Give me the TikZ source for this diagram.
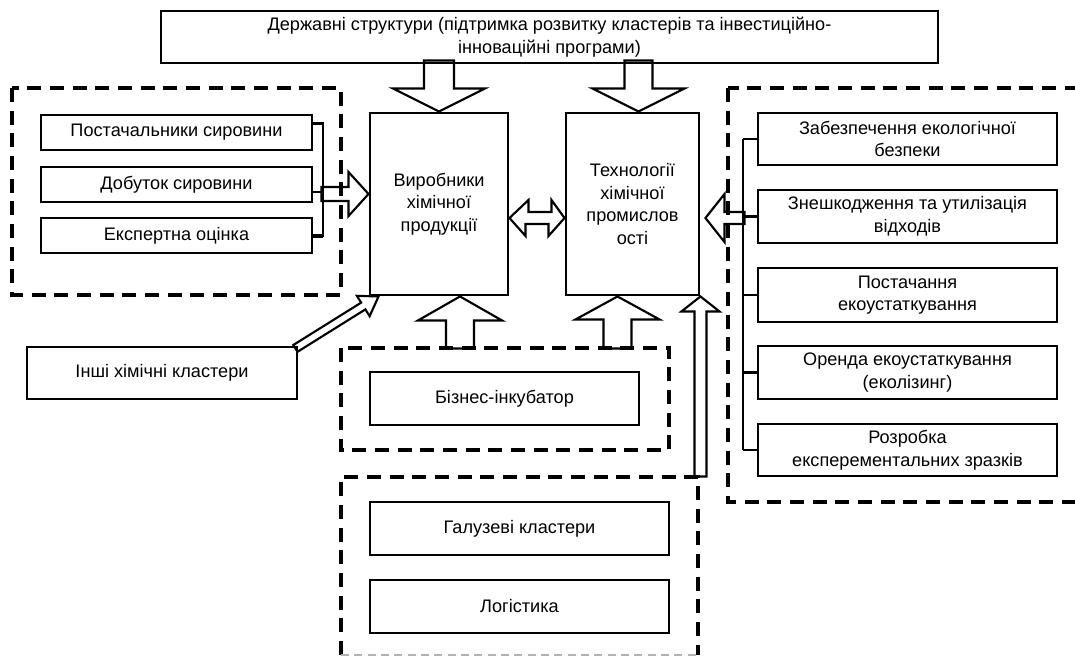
\documentclass[tikz,border=0pt]{standalone}
\usepackage{fontspec}
\setmainfont{Liberation Sans}
\usetikzlibrary{calc}

% hollow block arrow: tip, direction, length, shaft half width, head half width, head length
\newcommand{\blockarrow}[6]{%
  \begin{scope}[shift={(#1)},rotate=#2]
    \draw[hollow] (0,0) -- (-#6,#5) -- (-#6,#4) -- (-#3,#4) -- (-#3,-#4) -- (-#6,-#4) -- (-#6,-#5) -- cycle;
  \end{scope}}

\begin{document}
\begin{tikzpicture}[x=0.75pt,y=-0.75pt,
  box/.style={draw,line width=2.2pt,inner sep=0pt,align=center,font=\fontsize{13.6pt}{17pt}\selectfont},
  sz/.style 2 args={minimum width=#1*0.75pt,minimum height=#2*0.75pt},
  grp/.style={draw,line width=3pt,dash pattern=on 10.5pt off 6.5pt},
  link/.style={line width=1.6pt},
  hollow/.style={line width=1.6pt,line join=miter}]
\useasboundingbox (0,0) rectangle (1075,657);
\clip (0,0) rectangle (1075,657);

% groups
\draw[grp] (12,88) rectangle (341,295);
\draw[grp] (728,88) rectangle (1090,502);
\draw[grp] (341,348) rectangle (669,450);
\draw[grp] (341,655) -- (341,477) -- (698,477) -- (698,655);
\draw[gray!60,line width=0.8pt,dash pattern=on 6pt off 4pt] (341,655) -- (698,655);

% boxes
\node[box,sz={777}{52}] (gov) at (549.5,37) {Державні структури (підтримка розвитку кластерів та інвестиційно-\\інноваційні програми)};
\node[box,sz={271}{35}] (sup) at (176.5,132.5) {Постачальники сировини};
\node[box,sz={271}{35}] (mine) at (176.5,184.5) {Добуток сировини};
\node[box,sz={271}{35}] (exp) at (176.5,235.5) {Експертна оцінка};
\node[box,sz={138}{182}] (vyr) at (439,204) {Виробники\\хімічної\\продукції};
\node[box,sz={133}{182}] (tech) at (632.5,204) {Технології\\хімічної\\промислов\\ості};
\node[box,sz={299}{52}] (r1) at (907.5,139) {Забезпечення екологічної\\безпеки};
\node[box,sz={299}{53}] (r2) at (907.5,216.5) {Знешкодження та утилізація\\відходів};
\node[box,sz={299}{54}] (r3) at (907.5,295) {Постачання\\екоустаткування};
\node[box,sz={299}{53}] (r4) at (907.5,372.5) {Оренда екоустаткування\\(еколізинг)};
\node[box,sz={299}{52}] (r5) at (907.5,450) {Розробка\\експерементальних зразків};
\node[box,sz={270}{52}] (inshi) at (162,373) {Інші хімічні кластери};
\node[box,sz={269}{53}] (biz) at (504.5,398.5) {Бізнес-інкубатор};
\node[box,sz={299}{53}] (gal) at (519.5,528.5) {Галузеві кластери};
\node[box,sz={299}{53}] (log) at (519.5,606.5) {Логістика};

% brackets
\coordinate (lb) at (323,192);
\draw[link] ($(sup.east)+(0,-9)$) -| (lb |- exp.east) -- (exp.east);
\draw[link] (lb -| mine.east) -- (lb);
\draw[link,line width=3pt] (exp.east) -- (exp.east -| lb);
\coordinate (rb) at (743,0);
\draw[link] (r1.west -| rb) -- (r5.west -| rb);
\foreach \n in {r1,r2,r3,r4,r5}
  \draw[link] (\n.west) -- (\n.west -| rb);

% block arrows
\blockarrow{vyr.north}{-90}{51}{15}{46}{23}
\blockarrow{$(tech.north)+(6,0)$}{-90}{51}{14}{46}{23}
\blockarrow{$(vyr.west)+(0,-10)$}{0}{47}{7}{22}{20}
\blockarrow{$(tech.east)+(5,14)$}{180}{39}{6}{24}{19}
\blockarrow{$(vyr.south)+(21,0)$}{90}{52}{14}{42}{24}
\blockarrow{$(tech.south)+(-15,0)$}{90}{52}{14}{42}{23}
\blockarrow{tech.south east}{90}{180}{6}{19}{15}
\blockarrow{$(vyr.south west)+(10,0)$}{32}{98}{4}{12}{18}
\draw[hollow] ($(vyr.east)+(0,14)$) -- ++(19,-18) -- ++(0,12) -- ++(23,0) -- ++(0,-12)
  -- ($(tech.west)+(0,14)$) -- ++(-16,18) -- ++(0,-12) -- ++(-23,0) -- ++(0,12) -- cycle;
\end{tikzpicture}
\end{document}
